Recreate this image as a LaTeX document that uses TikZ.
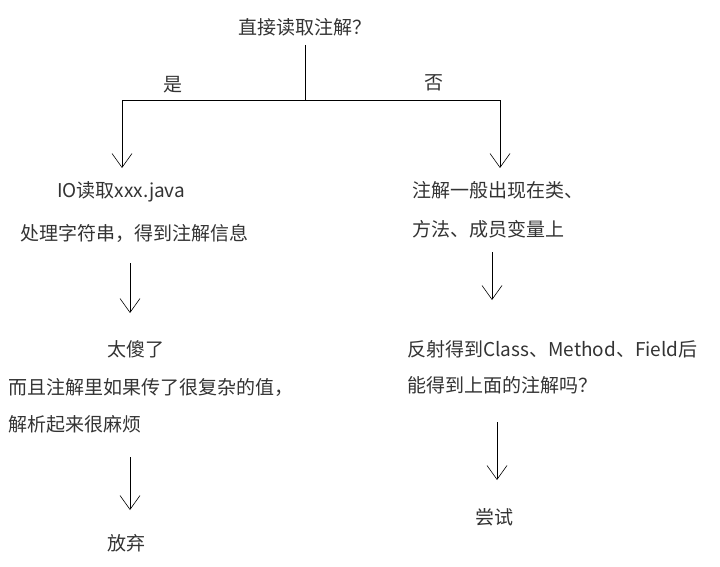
\documentclass[tikz,border=0pt]{standalone}
\usepackage{fontspec}
\setmainfont{Noto Sans CJK SC}
\usetikzlibrary{arrows.meta}

\begin{document}
\begin{tikzpicture}[x=1pt,y=-1pt,>={Straight Barb[length=14pt,width=20pt]},
                    semithick,
                    every node/.style={font=\fontsize{19}{22}\selectfont,inner sep=0pt,text=black!80}]
  \tikzset{txt/.style={anchor=west}}
  \useasboundingbox (0,0) rectangle (720,567);

  \node (q)                at (305,27) {直接读取注解？};
  \node (yes)              at (173,85) {是};
  \node (no)               at (434,83) {否};
  \node[txt] (io)          at (57,192) {IO读取xxx.java};
  \node[txt] (str)         at (20,233) {处理字符串，得到注解信息};
  \node[txt] (silly)       at (107,349) {太傻了};
  \node[txt] (complex)     at (8,387) {而且注解里如果传了很复杂的值，};
  \node[txt] (parse)       at (8,424) {解析起来很麻烦};
  \node[txt] (giveup)      at (107,543) {放弃};
  \node[txt] (where)       at (412,190) {注解一般出现在类、};
  \node[txt] (member)      at (412,229) {方法、成员变量上};
  \node[txt] (reflect)     at (407,349) {反射得到Class、Method、Field后};
  \node[txt] (can)         at (407,385) {能得到上面的注解吗？};
  \node[txt] (try)         at (475,517) {尝试};

  \coordinate (split) at (305,100);
  \coordinate (l) at (122,100);
  \coordinate (r) at (500,100);

  \draw (305,45) -- (split);
  \draw[->] (split) -- (l) -- (122,168);
  \draw[->] (split) -- (r) -- (500,168);
  \draw[->] (130,263) -- (130,313);
  \draw[->] (130,457) -- (130,510);
  \draw[->] (492,252) -- (492,300);
  \draw[->] (497,422) -- (497,480);
\end{tikzpicture}
\end{document}
